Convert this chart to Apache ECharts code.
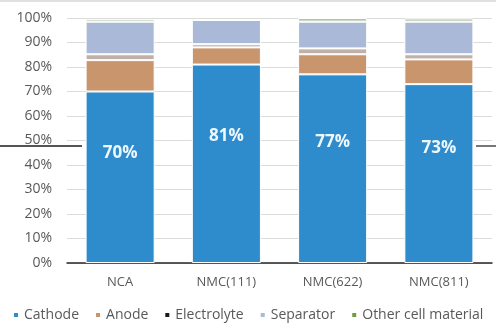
<!DOCTYPE html>
<html>
<head>
<meta charset="utf-8">
<script src="https://cdn.jsdelivr.net/npm/echarts@6/dist/echarts.min.js"></script>
<style>
html,body{margin:0;padding:0;background:#fff;}
#c{width:496px;height:333px;}
</style>
</head>
<body>
<div id="c"></div>
<script>
const categories = ['NCA', 'NMC(111)', 'NMC(622)', 'NMC(811)'];
const cathode = [70, 81, 77, 73];
const anode = [12.8, 7, 8.2, 10.1];
const electrolyte = [2.4, 1.3, 2.4, 2.1];
const separator = [13.3, 9.9, 10.9, 13.3];
const other = [1, 0.2, 1.5, 1.3];
const yTicks = [0, 10, 20, 30, 40, 50, 60, 70, 80, 90, 100];

const font = '"Open Sans", "Noto Sans", sans-serif';
const chart = echarts.init(document.getElementById('c'), null, {renderer: 'canvas'});

function seg(name, data, color, extra) {
  return Object.assign({
    name: name,
    type: 'bar',
    stack: 'total',
    data: data,
    barCategoryGap: '35%',
    itemStyle: {color: color, borderColor: '#ffffff', borderWidth: 1},
    emphasis: {disabled: true}
  }, extra || {});
}

chart.setOption({
  animation: false,
  backgroundColor: '#ffffff',
  grid: {left: 67, right: 4, top: 18, bottom: 70},
  xAxis: {
    type: 'category',
    data: categories,
    axisLine: {lineStyle: {color: '#262626', width: 1.5}},
    axisTick: {show: false},
    axisLabel: {color: '#595959', fontSize: 13, fontFamily: font, margin: 13}
  },
  yAxis: {
    type: 'value',
    min: yTicks[0],
    max: yTicks[yTicks.length - 1],
    interval: 10,
    axisLine: {show: false},
    axisTick: {show: false},
    splitLine: {lineStyle: {color: '#dcdcdc', width: 1}},
    axisLabel: {color: '#595959', fontSize: 14, fontFamily: font, margin: 15, formatter: '{value}%'}
  },
  legend: {
    left: 10,
    top: 303,
    width: 486,
    padding: [5, 2],
    icon: 'rect',
    itemWidth: 6,
    itemHeight: 6,
    itemGap: 15,
    textStyle: {color: '#595959', fontSize: 14, fontFamily: font},
    data: [
      {name: 'Cathode'},
      {name: 'Anode'},
      {name: 'Electrolyte', itemStyle: {color: '#1a1a1a'}},
      {name: 'Separator'},
      {name: 'Other cell material', itemStyle: {color: '#6e9e3c'}}
    ]
  },
  series: [
    seg('Cathode', cathode, '#2e8bcc', {
      label: {
        show: true,
        position: ['50%', '36%'],
        align: 'center',
        verticalAlign: 'middle',
        formatter: '{c}%',
        color: '#eef7fc',
        fontSize: 17,
        fontWeight: 'bold',
        fontFamily: font
      }
    }),
    seg('Anode', anode, '#c9956c'),
    seg('Electrolyte', electrolyte, '#bfb1a9'),
    seg('Separator', separator, '#aab9d7'),
    seg('Other cell material', other, '#b4c4a6')
  ],
  graphic: [
    {type: 'line', shape: {x1: 0, y1: 146, x2: 82, y2: 146}, style: {stroke: '#555555', lineWidth: 2}, z: 100},
    {type: 'line', shape: {x1: 476, y1: 146, x2: 496, y2: 146}, style: {stroke: '#777777', lineWidth: 2}, z: 100},
    {type: 'line', shape: {x1: 0, y1: 1, x2: 496, y2: 1}, style: {stroke: '#e0e0e0', lineWidth: 2}, z: 100}
  ]
});
</script>
</body>
</html>
